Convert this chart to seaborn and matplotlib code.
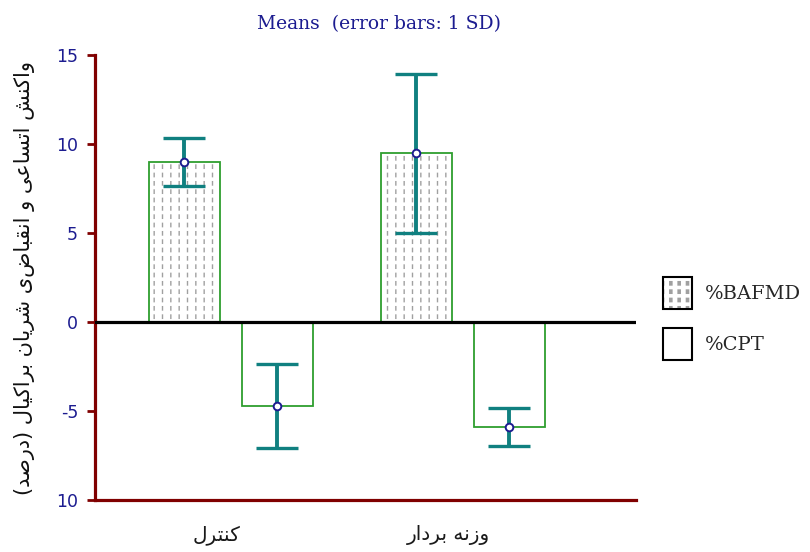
import numpy as np
import pandas as pd
import seaborn as sns
import matplotlib.pyplot as plt
import matplotlib.transforms as mtransforms
from matplotlib.patches import Patch, Rectangle

# data
groups = ["کنترل", "وزنه بردار"]
series = ["%BAFMD", "%CPT"]
bafmd_mean = [9.0, 9.5]
cpt_mean = [-4.72, -5.9]
bafmd_sd = [1.35, 4.47]
cpt_sd = [2.36, 1.07]
y_ticks = [-10, -5, 0, 5, 10, 15]
y_tick_labels = ["10", "-5", "0", "5", "10", "15"]
y_label = "واکنش اتساعی و انقباضی شریان براکیال (درصد)"
title = "Means  (error bars: 1 SD)"

# matplotlib has no Arabic shaping, so pick the presentation forms by hand
# (isolated, final, initial, medial)
forms = {
    'ا': ('\uFE8D', '\uFE8E', None, None),
    'ب': ('\uFE8F', '\uFE90', '\uFE91', '\uFE92'),
    'ت': ('\uFE95', '\uFE96', '\uFE97', '\uFE98'),
    'د': ('\uFEA9', '\uFEAA', None, None),
    'ر': ('\uFEAD', '\uFEAE', None, None),
    'ز': ('\uFEAF', '\uFEB0', None, None),
    'س': ('\uFEB1', '\uFEB2', '\uFEB3', '\uFEB4'),
    'ش': ('\uFEB5', '\uFEB6', '\uFEB7', '\uFEB8'),
    'ص': ('\uFEB9', '\uFEBA', '\uFEBB', '\uFEBC'),
    'ع': ('\uFEC9', '\uFECA', '\uFECB', '\uFECC'),
    'ق': ('\uFED5', '\uFED6', '\uFED7', '\uFED8'),
    'ک': ('\uFB8E', '\uFB8F', '\uFB90', '\uFB91'),
    'ل': ('\uFEDD', '\uFEDE', '\uFEDF', '\uFEE0'),
    'ن': ('\uFEE5', '\uFEE6', '\uFEE7', '\uFEE8'),
    'ه': ('\uFEE9', '\uFEEA', '\uFEEB', '\uFEEC'),
    'و': ('\uFEED', '\uFEEE', None, None),
    'ی': ('\uFBFC', '\uFBFD', '\uFBFE', '\uFBFF'),
}


def shape_rtl(text):
    out = []
    for i, ch in enumerate(text):
        if ch not in forms:
            out.append(ch)
            continue
        prev = text[i - 1] if i > 0 else ''
        nxt = text[i + 1] if i + 1 < len(text) else ''
        joins_prev = prev in forms and forms[prev][2] is not None
        joins_next = forms[ch][2] is not None and nxt in forms
        if joins_prev and joins_next:
            out.append(forms[ch][3])
        elif joins_prev:
            out.append(forms[ch][1])
        elif joins_next:
            out.append(forms[ch][2])
        else:
            out.append(forms[ch][0])
    mirror = {'(': ')', ')': '('}
    return ''.join(mirror.get(c, c) for c in reversed(out))


df = pd.DataFrame({
    "group": groups * 2,
    "series": [series[0]] * 2 + [series[1]] * 2,
    "mean": bafmd_mean + cpt_mean,
    "sd": bafmd_sd + cpt_sd,
})

green = "#2e9e2e"
teal = "#108080"
navy = "#1c1c90"
dark_red = "#800000"
hatch_grey = "#a0a0a0"

sns.set_style("white")
plt.rcParams['font.family'] = ['DejaVu Sans']

fig = plt.figure(figsize=(8.1, 5.52), dpi=100)
ax = fig.add_axes([0.117, 0.094, 0.668, 0.806])

sns.barplot(data=df, x="group", y="mean", hue="series", order=groups,
            hue_order=series, errorbar=None, width=0.8, gap=0.235,
            palette=["white", "white"], edgecolor=green, linewidth=1.3,
            legend=False, ax=ax)

bars = list(ax.patches)
# hatched fill for the first series: grey vertical lines broken by white horizontals
for p in bars[:2]:
    p.set_facecolor('none')
    p.set_zorder(3)
    plt.rcParams['hatch.linewidth'] = 1.0
    ax.add_patch(Rectangle(p.get_xy(), p.get_width(), p.get_height(),
                           facecolor='white', edgecolor=hatch_grey, hatch='||',
                           lw=0, zorder=2))
    plt.rcParams['hatch.linewidth'] = 2.6
    ax.add_patch(Rectangle(p.get_xy(), p.get_width(), p.get_height(),
                           facecolor='none', edgecolor='white', hatch='--',
                           lw=0, zorder=2.5))

ax.axhline(0, color='black', lw=2.3, zorder=4)

xs = [p.get_x() + p.get_width() / 2 for p in bars]
ys = df["mean"].tolist()
ax.errorbar(xs, ys, yerr=df["sd"].tolist(), fmt='none', ecolor=teal,
            elinewidth=2.8, capsize=15, capthick=2.4, zorder=5)
ax.plot(xs, ys, linestyle='none', marker='o', markersize=5.5,
        markerfacecolor='white', markeredgecolor=navy, markeredgewidth=1.4,
        zorder=6)

ax.set_ylim(-10, 15)
ax.set_xlim(-0.586, 1.746)
ax.set_yticks(y_ticks)
ax.set_yticklabels(y_tick_labels)
ax.set_xticks(range(len(groups)))
ax.set_xticklabels([shape_rtl(g) for g in groups])
ax.set_xlabel("")
ax.set_ylabel(shape_rtl(y_label), fontsize=15, color='#111111', labelpad=15)

for s in ['top', 'right']:
    ax.spines[s].set_visible(False)
for s in ['left', 'bottom']:
    ax.spines[s].set_color(dark_red)
    ax.spines[s].set_linewidth(2.3)

ax.tick_params(axis='y', direction='out', length=6, width=2, color=dark_red,
               labelcolor=navy, labelsize=12.5, pad=6, left=True)
ax.tick_params(axis='x', length=0, labelsize=14.5, labelcolor='#1a1a1a', pad=18)
shift = mtransforms.ScaledTranslation(-14 / 100, 0, fig.dpi_scale_trans)
for lab in ax.get_xticklabels():
    lab.set_transform(lab.get_transform() + shift)

ax.set_title(title, fontsize=13.5, color=navy, family='DejaVu Serif', pad=19,
             x=0.526)

plt.rcParams['hatch.linewidth'] = 1.0
h1 = Patch(facecolor='white', edgecolor=hatch_grey, hatch='||', lw=0)
plt.rcParams['hatch.linewidth'] = 2.6
h2 = Patch(facecolor='none', edgecolor='white', hatch='--', lw=0)
h3 = Patch(facecolor='none', edgecolor='black', lw=1.5)
h4 = Patch(facecolor='white', edgecolor='black', lw=1.5)
fig.legend(handles=[(h1, h2, h3), h4], labels=series, loc='upper left',
           bbox_to_anchor=(0.818, 0.498), frameon=False, borderpad=0,
           borderaxespad=0, handlelength=1.5, handleheight=2.16,
           labelspacing=0.98, handletextpad=0.67,
           prop={'family': 'DejaVu Serif', 'size': 14})

fig.savefig("out.png", dpi=100)
